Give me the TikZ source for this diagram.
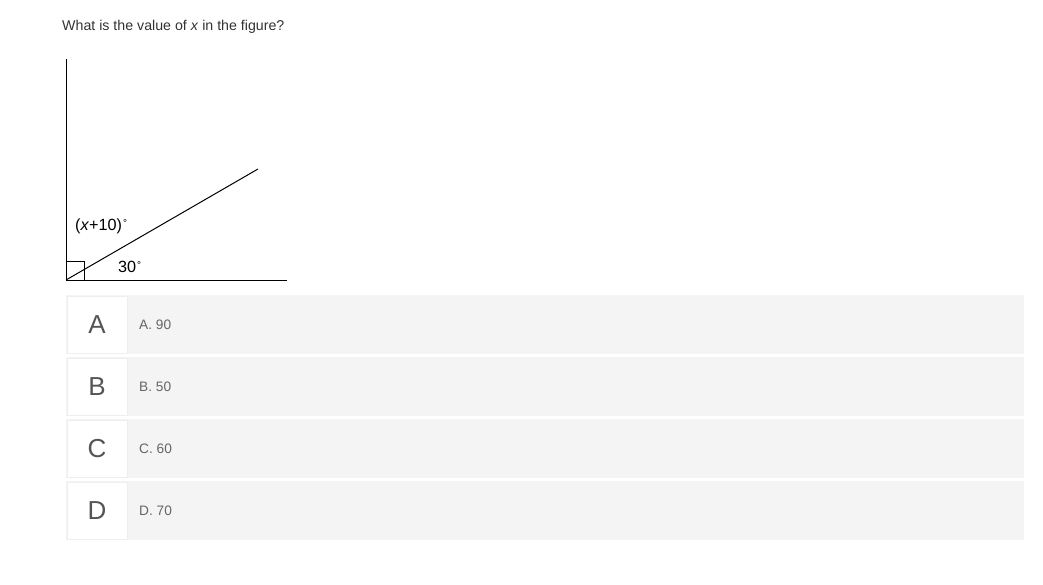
\documentclass[tikz,border=0pt]{standalone}
\usepackage{fontspec}
\setmainfont{Liberation Sans}
\usetikzlibrary{positioning}
\definecolor{qtext}{HTML}{333333}
\definecolor{rowfill}{HTML}{F4F4F4}
\definecolor{boxline}{HTML}{EEEEEE}
\definecolor{lettercol}{HTML}{555555}
\definecolor{opttext}{HTML}{666666}

\begin{document}
\begin{tikzpicture}[x=1pt,y=-1pt,
    optrow/.style={fill=rowfill,minimum width=958pt,minimum height=59pt,inner sep=0pt},
    letterbox/.style={fill=white,draw=boxline,line width=0.8pt,minimum width=60pt,minimum height=57pt,inner sep=0pt,
        font=\fontsize{26}{26}\selectfont,text=lettercol},
    opt/.style={anchor=base west,inner sep=0pt,font=\fontsize{13.7}{14}\selectfont,text=opttext},
    anglbl/.style={anchor=base west,inner sep=0pt,font=\fontsize{16.2}{17}\selectfont}]
    \useasboundingbox (0,0) rectangle (1043,585);

    \node[anchor=base west,inner sep=0pt,text=qtext,font=\fontsize{14.2}{15}\selectfont] (question) at (62,31)
        {What is the value of \textit{x} in the figure?};

    % the figure
    \coordinate (O) at (66,280);
    \coordinate (top) at (66,59);
    \coordinate (far) at (287,280);
    \coordinate (ray) at (258,169);
    \draw[line width=1pt] (top) -- (O) -- (far);
    \draw[line width=1pt] (O) -- (ray);
    \draw[line width=0.9pt] (66,261) rectangle (84,280);
    \node[anglbl] (lblx) at (75,230.5) {(\textit{x}+10)\kern1pt\raisebox{0.45ex}{\fontsize{10}{10}\selectfont°}};
    \node[anglbl] (lbl30) at (118,272.5) {30\kern1pt\raisebox{0.45ex}{\fontsize{10}{10}\selectfont°}};

    % answer rows
    \foreach \L/\v/\y in {A/90/324.5, B/50/386.5, C/60/448.5, D/70/510.5}{
        \node[optrow] (row\L) at (545,\y) {};
        \node[letterbox] (let\L) at (97,\y) {\L};
        \node[opt] (opt\L) at (139,\y+5) {\L. \v};
    }
\end{tikzpicture}
\end{document}
